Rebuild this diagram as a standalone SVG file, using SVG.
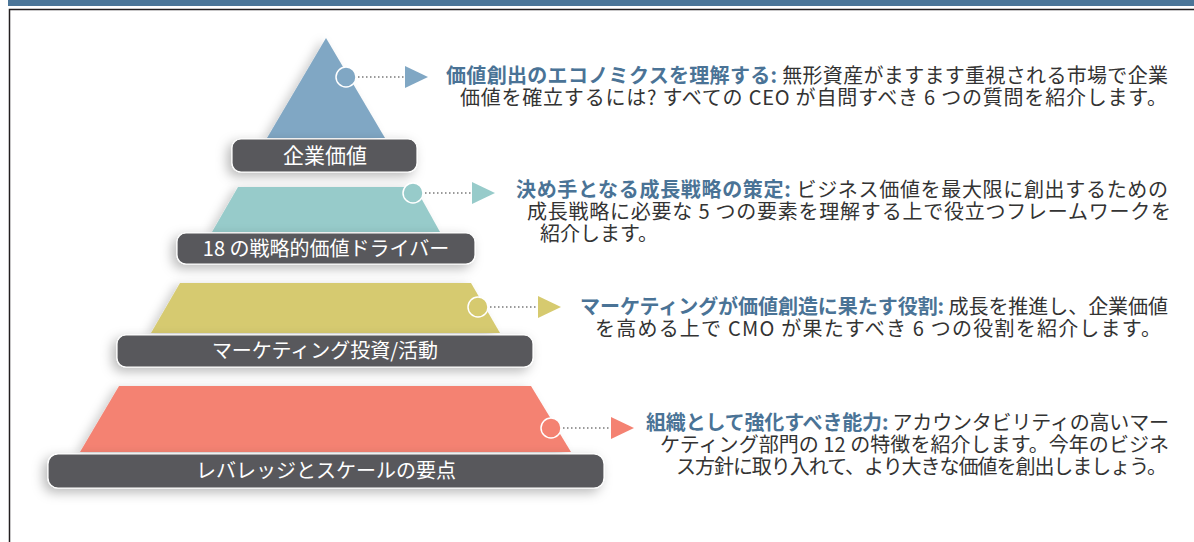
<svg xmlns="http://www.w3.org/2000/svg" width="1194" height="542" viewBox="0 0 1194 542">
<defs>
<filter id="sh" x="-20%" y="-40%" width="140%" height="200%">
<feDropShadow dx="-4" dy="4" stdDeviation="6" flood-color="#000" flood-opacity="0.28"/>
</filter>
<filter id="sh2" x="-20%" y="-20%" width="140%" height="140%">
<feDropShadow dx="-5" dy="2" stdDeviation="5" flood-color="#000" flood-opacity="0.18"/>
</filter>
<style>
.lbl{fill:#58595b;stroke:#fff;stroke-width:1.2;filter:url(#sh)}
.lt{font-family:"Noto Sans CJK JP","Noto Sans",sans-serif;font-size:20px;fill:#fff;text-anchor:middle}
.bt{font-family:"Noto Sans CJK JP","Noto Sans",sans-serif;font-size:20px;fill:#333}
.hd{fill:#4a7396;font-weight:bold}
.dot{stroke:#9a9a9a;stroke-width:2;stroke-dasharray:1.5 2.5;fill:none}
.c{stroke:#fff;stroke-width:1.5}
</style>
</defs>
<rect x="0" y="0" width="1194" height="542" fill="#fff"/>
<rect x="8" y="0" width="1186" height="6" fill="#4b7598"/>
<path d="M9.5 542 V9.5 H1194" fill="none" stroke="#231f20" stroke-width="1.5"/>

<g id="tier1">
<polygon points="326,38 385,138 267,138" fill="#80a7c4" filter="url(#sh2)"/>
<rect class="lbl" x="232" y="139" width="185" height="33" rx="9"/>
<text class="lt" x="325" y="163" style="font-size:21px">企業価値</text>
</g>
<g id="tier2">
<polygon points="238,187 415,187 440,232 212,232" fill="#97cbca" filter="url(#sh2)"/>
<rect class="lbl" x="177" y="233" width="298" height="31" rx="9"/>
<text class="lt" x="326" y="256">18 の戦略的価値ドライバー</text>
</g>
<g id="tier3">
<polygon points="180,283 471,283 500,333 151,333" fill="#d6ca6f" filter="url(#sh2)"/>
<rect class="lbl" x="117" y="335" width="416" height="32" rx="9"/>
<text class="lt" x="325" y="358">マーケティング投資/活動</text>
</g>
<g id="tier4">
<polygon points="119,386 531,386 571,452 80,452" fill="#f48272" filter="url(#sh2)"/>
<rect class="lbl" x="48" y="454" width="556" height="34" rx="10"/>
<text class="lt" x="326" y="478">レバレッジとスケールの要点</text>
</g>

<g id="connectors">
<circle class="c" cx="346" cy="77" r="10" fill="#80a7c4"/>
<line class="dot" x1="358" y1="77" x2="404" y2="77"/>
<polygon points="405,66 428,77 405,88" fill="#80a7c4"/>

<circle class="c" cx="413" cy="193" r="10" fill="#97cbca"/>
<line class="dot" x1="425" y1="193" x2="471" y2="193"/>
<polygon points="472,182 495,193 472,204" fill="#97cbca"/>

<circle class="c" cx="478" cy="307" r="10" fill="#d6ca6f"/>
<line class="dot" x1="490" y1="307" x2="537" y2="307"/>
<polygon points="538,296 561,307 538,318" fill="#d6ca6f"/>

<circle class="c" cx="551" cy="428" r="10" fill="#f48272"/>
<line class="dot" x1="563" y1="428" x2="610" y2="428"/>
<polygon points="611,417 634,428 611,439" fill="#f48272"/>
</g>

<g id="text1">
<text class="bt" x="446" y="83" textLength="722" lengthAdjust="spacing"><tspan class="hd">価値創出のエコノミクスを理解する:</tspan> 無形資産がますます重視される市場で企業</text>
<text class="bt" x="460" y="105" textLength="707" lengthAdjust="spacing">価値を確立するには? すべての CEO が自問すべき 6 つの質問を紹介します。</text>
</g>
<g id="text2">
<text class="bt" x="516" y="197" textLength="652" lengthAdjust="spacing"><tspan class="hd">決め手となる成長戦略の策定:</tspan> ビジネス価値を最大限に創出するための</text>
<text class="bt" x="527" y="219" textLength="644" lengthAdjust="spacing">成長戦略に必要な 5 つの要素を理解する上で役立つフレームワークを</text>
<text class="bt" x="540" y="241">紹介します。</text>
</g>
<g id="text3">
<text class="bt" x="580" y="314" textLength="588" lengthAdjust="spacing"><tspan class="hd">マーケティングが価値創造に果たす役割:</tspan> 成長を推進し、企業価値</text>
<text class="bt" x="595" y="336" textLength="566" lengthAdjust="spacing">を高める上で CMO が果たすべき 6 つの役割を紹介します。</text>
</g>
<g id="text4">
<text class="bt" x="646" y="430" textLength="523" lengthAdjust="spacing"><tspan class="hd">組織として強化すべき能力:</tspan> アカウンタビリティの高いマー</text>
<text class="bt" x="660" y="452" textLength="509" lengthAdjust="spacing">ケティング部門の 12 の特徴を紹介します。今年のビジネ</text>
<text class="bt" x="676" y="474" textLength="491" lengthAdjust="spacing">ス方針に取り入れて、より大きな価値を創出しましょう。</text>
</g>
</svg>
